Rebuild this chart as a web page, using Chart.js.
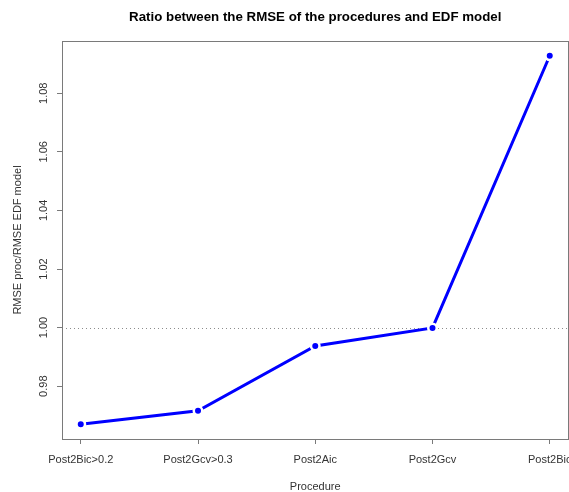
<!DOCTYPE html>
<html>
<head>
<meta charset="utf-8">
<script src="https://cdn.jsdelivr.net/npm/chart.js@4/dist/chart.umd.min.js"></script>
<style>
  html, body { margin: 0; padding: 0; background: #fff; }
  #wrap { width: 569px; height: 492px; overflow: hidden; position: relative; }
  canvas { display: block; }
</style>
</head>
<body>
<div id="wrap"><canvas id="c" width="600" height="492" style="width:600px;height:492px"></canvas></div>
<script>
const procedures = ['Post2Bic>0.2', 'Post2Gcv>0.3', 'Post2Aic', 'Post2Gcv', 'Post2Bic'];
const ratios = [0.967, 0.9716, 0.9937, 0.9999, 1.0928];
const yTickValues = [0.98, 1.00, 1.02, 1.04, 1.06, 1.08];
const referenceValue = 1.00;
const titleText = 'Ratio between the RMSE of the procedures and EDF model';
const xTitle = 'Procedure';
const yTitle = 'RMSE proc/RMSE EDF model';

const FONT = '"Liberation Sans", Arial, sans-serif';
const AXIS_GRAY = '#7a7a7a';
const TEXT_COL = '#333';

// R-style 4% axis extension
const yLo = Math.min(...ratios), yHi = Math.max(...ratios);
const yPad = (yHi - yLo) * 0.04;
const xLo = 1, xHi = procedures.length;
const xPad = (xHi - xLo) * 0.04;

const boxAndRef = {
  id: 'boxAndRef',
  beforeDatasetsDraw(chart) {
    const { ctx, chartArea: a, scales } = chart;
    const y = Math.round(scales.y.getPixelForValue(referenceValue)) + 0.5;
    ctx.save();
    ctx.strokeStyle = '#8c8c8c';
    ctx.lineWidth = 1;
    ctx.setLineDash([1, 3]);
    ctx.beginPath();
    ctx.moveTo(a.left, y);
    ctx.lineTo(a.right, y);
    ctx.stroke();
    ctx.restore();
  },
  afterDraw(chart) {
    const { ctx, chartArea: a } = chart;
    ctx.save();
    ctx.strokeStyle = AXIS_GRAY;
    ctx.lineWidth = 1;
    ctx.strokeRect(Math.round(a.left) + 0.5, Math.round(a.top) + 0.5,
      Math.round(a.right - a.left) - 1, Math.round(a.bottom - a.top));
    ctx.restore();
  }
};

new Chart(document.getElementById('c'), {
  type: 'line',
  data: {
    datasets: [{
      data: procedures.map((p, i) => ({ x: i + 1, y: ratios[i] })),
      borderColor: '#0000ff',
      backgroundColor: '#0000ff',
      borderWidth: 3,
      pointRadius: 4.25,
      pointHoverRadius: 4.25,
      pointBackgroundColor: '#0000ff',
      pointBorderColor: '#ffffff',
      pointBorderWidth: 2.5,
      tension: 0,
      fill: false
    }]
  },
  options: {
    responsive: false,
    animation: false,
    devicePixelRatio: 1,
    layout: { padding: { left: 0, right: 31.5, top: 0, bottom: 0 } },
    plugins: {
      legend: { display: false },
      tooltip: { enabled: false },
      title: {
        display: true,
        fullSize: false,
        text: titleText,
        color: '#000',
        font: { family: FONT, size: 13.3, weight: 'bold' },
        padding: { top: 9, bottom: 16.04 }
      }
    },
    scales: {
      x: {
        type: 'linear',
        min: xLo - xPad,
        max: xHi + xPad,
        afterBuildTicks: s => { s.ticks = procedures.map((p, i) => ({ value: i + 1 })); },
        afterFit: s => { s.height = 53; },
        ticks: {
          autoSkip: false,
          maxRotation: 0,
          minRotation: 0,
          padding: 9,
          color: TEXT_COL,
          font: { family: FONT, size: 11 },
          callback: v => procedures[Math.round(v) - 1]
        },
        grid: { drawOnChartArea: false, drawTicks: true, tickLength: 5, color: AXIS_GRAY },
        border: { display: false },
        title: {
          display: true,
          text: xTitle,
          color: TEXT_COL,
          font: { family: FONT, size: 11, lineHeight: 1 },
          padding: { top: 0, bottom: 0 }
        }
      },
      y: {
        type: 'linear',
        min: yLo - yPad,
        max: yHi + yPad,
        afterBuildTicks: s => { s.ticks = yTickValues.map(v => ({ value: v })); },
        afterFit: s => { s.width = 62; },
        ticks: {
          minRotation: 90,
          maxRotation: 90,
          crossAlign: 'center',
          padding: 2,
          color: TEXT_COL,
          font: { family: FONT, size: 11 },
          callback: v => v.toFixed(2)
        },
        grid: { drawOnChartArea: false, drawTicks: true, tickLength: 5, color: AXIS_GRAY },
        border: { display: false },
        title: {
          display: true,
          text: yTitle,
          color: TEXT_COL,
          font: { family: FONT, size: 11, lineHeight: 1.2 },
          padding: { top: 11, bottom: 0 }
        }
      }
    }
  },
  plugins: [boxAndRef]
});
</script>
</body>
</html>
